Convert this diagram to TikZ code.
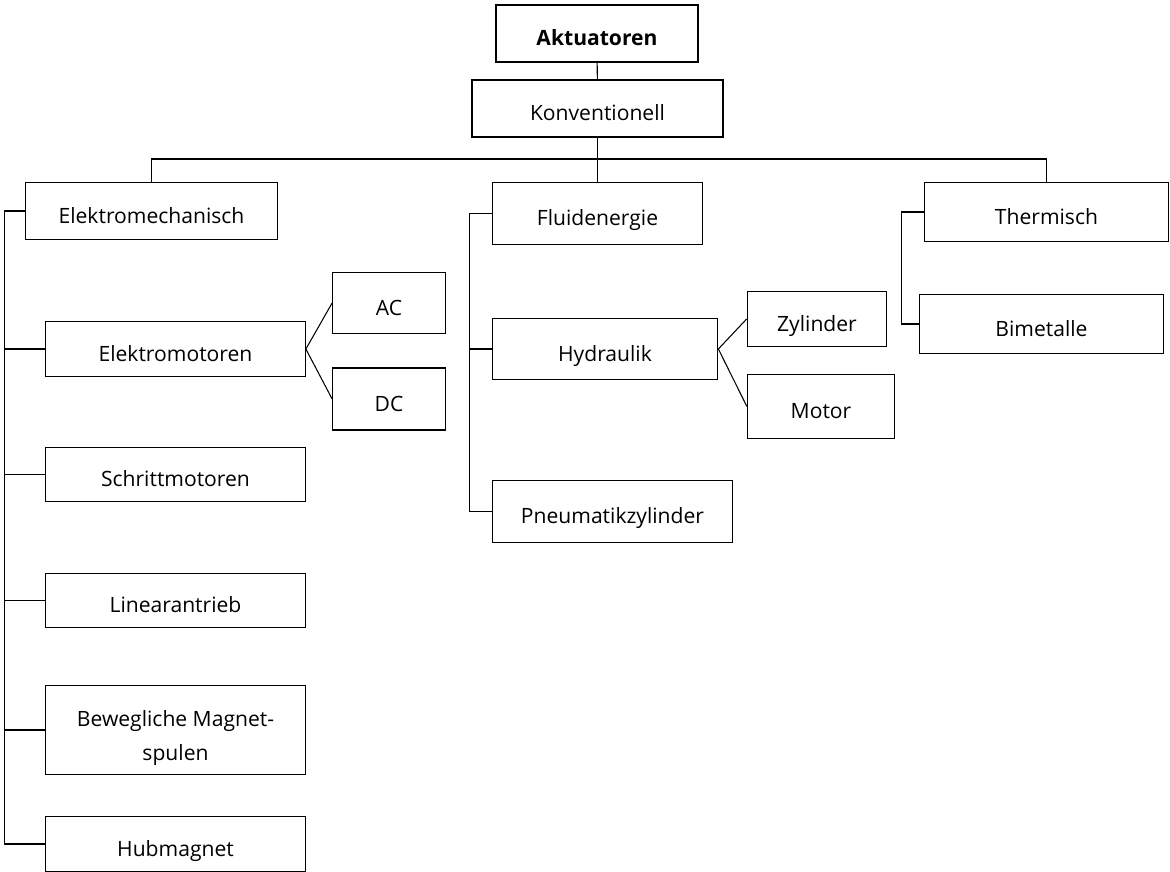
\documentclass[tikz,border=0pt]{standalone}
\usepackage{fontspec}
\setmainfont{Open Sans}
\usepackage{tikz}

\begin{document}
\begin{tikzpicture}[
  box/.style={draw=linecolor,line width=0.7pt,fill=fillcolor,inner sep=0pt,
    font=\fontsize{12}{19}\selectfont,text height=14.8pt,text depth=1pt},
  link/.style={draw=linecolor,line width=0.6pt}]
\definecolor{fillcolor}{RGB}{255,255,255}
\definecolor{linecolor}{RGB}{0,0,0}
\useasboundingbox (0,0) rectangle (23.40,-17.44);
% top of the tree
\node [box,minimum width=4.04cm,minimum height=1.14cm] (akt) at (11.94,-0.67) {\textbf{Aktuatoren}};
\node [box,minimum width=5.02cm,minimum height=1.14cm] (konv) at (11.95,-2.17) {Konventionell};
% second level
\node [box,minimum width=5.04cm,minimum height=1.13cm] (elektro) at (3.03,-4.22) {Elektromechanisch};
\node [box,minimum width=4.20cm,minimum height=1.24cm] (fluid) at (11.95,-4.27) {Fluidenergie};
\node [box,minimum width=4.89cm,minimum height=1.18cm] (therm) at (20.93,-4.24) {Thermisch};
% elektromechanisch column
\node [box,minimum width=5.19cm,minimum height=1.09cm] (elmot) at (3.51,-6.98) {Elektromotoren};
\node [box,minimum width=2.25cm,minimum height=1.23cm] (ac) at (7.78,-6.06) {AC};
\node [box,minimum width=2.25cm,minimum height=1.24cm] (dc) at (7.78,-7.98) {DC};
\node [box,minimum width=5.19cm,minimum height=1.09cm] (schritt) at (3.51,-9.49) {Schrittmotoren};
\node [box,minimum width=5.19cm,minimum height=1.09cm] (linear) at (3.51,-12.01) {Linearantrieb};
\node [box,minimum width=5.19cm,minimum height=1.77cm] (bewegl) at (3.51,-14.60) {\begin{tabular}{@{}c@{}}Bewegliche Magnet-\\spulen\end{tabular}};
\node [box,minimum width=5.19cm,minimum height=1.09cm] (hub) at (3.51,-16.88) {Hubmagnet};
% fluidenergie column
\node [box,minimum width=4.51cm,minimum height=1.23cm] (hyd) at (12.10,-6.98) {Hydraulik};
\node [box,minimum width=2.79cm,minimum height=1.10cm] (zyl) at (16.34,-6.38) {Zylinder};
\node [box,minimum width=2.94cm,minimum height=1.29cm] (motor) at (16.42,-8.13) {Motor};
\node [box,minimum width=4.80cm,minimum height=1.25cm] (pneu) at (12.25,-10.23) {Pneumatikzylinder};
% thermisch column
\node [box,minimum width=4.89cm,minimum height=1.19cm] (bimet) at (20.83,-6.48) {Bimetalle};
% rails and bus
\coordinate (bus) at (11.95,-3.18);
\coordinate (emrail) at (0.09,0);
\coordinate (fdrail) at (9.39,0);
\coordinate (thrail) at (18.03,0);
\draw [link] (akt) -- (konv);
\draw [link] (konv) -- (fluid);
\draw [link] (elektro.north) |- (bus) -| (therm.north);
\draw [link] (elektro.west) -- (elektro.west -| emrail) |- (hub.west);
\foreach \n in {elmot,schritt,linear,bewegl}
  \draw [link] (\n.west) -- (\n.west -| emrail);
\draw [link] (elmot.east) -- (ac.west);
\draw [link] (elmot.east) -- (dc.west);
\draw [link] (fluid.west) -- (fluid.west -| fdrail) |- (pneu.west);
\draw [link] (hyd.west) -- (hyd.west -| fdrail);
\draw [link] (hyd.east) -- (zyl.west);
\draw [link] (hyd.east) -- (motor.west);
\draw [link] (therm.west) -- (therm.west -| thrail) |- (bimet.west);
\end{tikzpicture}
\end{document}
